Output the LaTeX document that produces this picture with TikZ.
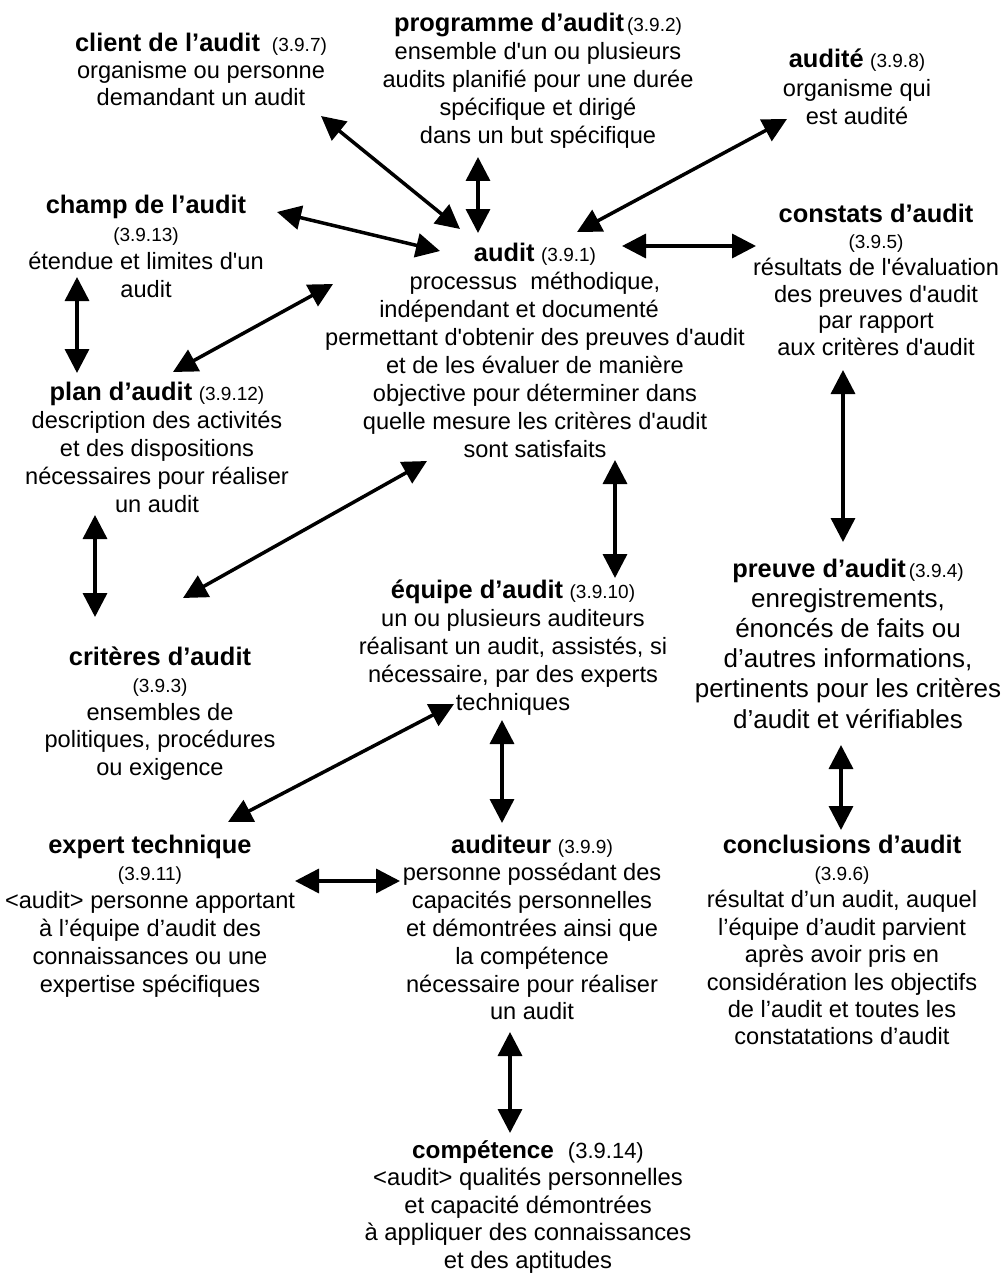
\documentclass[tikz,border=0pt]{standalone}
\usepackage{fontspec}
\setmainfont{Liberation Sans}[Ligatures=TeXOff]
\usetikzlibrary{arrows.meta}
\newcommand{\ttl}[1]{{\fontsize{25.4}{28}\selectfont\bfseries #1}}
\newcommand{\refnum}[1]{{\fontsize{19}{28}\selectfont #1}}
\newcommand{\topstrut}{\rule{0pt}{22pt}}
\tikzset{
  concept/.style={align=center, inner sep=0pt, outer sep=0pt, anchor=north,
    font=\fontsize{23.6}{#1}\selectfont},
  concept/.default=28pt,
  link/.style={<->, >={Triangle[length=24pt,width=24pt]}, line width=3.5pt},
}
\begin{document}
\begin{tikzpicture}[x=1pt,y=-1pt]
\fill[white] (0,0) rectangle (1006,1276);
\useasboundingbox (0,0) rectangle (1006,1276);

\node[concept=27pt] (client) at (201,30)
  {\topstrut\ttl{client de l’audit}\hspace{12pt}\refnum{(3.9.7)}\\
   organisme ou personne\\ demandant un audit};

\node[concept=27.9pt] (prog) at (538,9.5)
  {\topstrut\ttl{programme d’audit}\hspace{3pt}\refnum{(3.9.2)}\\
   ensemble d'un ou plusieurs\\ audits planifié pour une durée\\
   spécifique et dirigé\\ dans un but spécifique};

\node[concept=28.5pt] (audite) at (857,46)
  {\topstrut\ttl{audité} \refnum{(3.9.8)}\\ organisme qui\\ est audité};

\node[concept=28pt] (champ) at (146,191)
  {\topstrut\ttl{champ de l’audit}\\ \refnum{(3.9.13)}\\
   étendue et limites d'un\\ audit};

\node[concept=28pt] (audit) at (535,239)
  {\topstrut\ttl{audit} \refnum{(3.9.1)}\\
   processus\ \ méthodique,\\
   indépendant et documenté\rule{32pt}{0pt}\\
   permettant d'obtenir des preuves d'audit\\
   et de les évaluer de manière\\
   objective pour déterminer dans\\
   quelle mesure les critères d'audit\\
   sont satisfaits};

\node[concept=26.7pt] (constats) at (876,200)
  {\topstrut\ttl{constats d’audit}\\ \refnum{(3.9.5)}\\
   résultats de l'évaluation\\ des preuves d'audit\\ par rapport\\
   aux critères d'audit};

\node[concept=28.2pt] (plan) at (157,378)
  {\topstrut\ttl{plan d’audit} \refnum{(3.9.12)}\\
   description des activités\\ et des dispositions\\
   nécessaires pour réaliser\\ un audit};

\node[concept=27.5pt] (criteres) at (160,643)
  {\topstrut\ttl{critères d’audit}\\ \refnum{(3.9.3)}\\
   ensembles de\\ politiques, procédures\\ ou exigence};

\node[concept=28pt] (equipe) at (513,576)
  {\topstrut\ttl{équipe d’audit} \refnum{(3.9.10)}\\
   un ou plusieurs auditeurs\\ réalisant un audit, assistés, si\\
   nécessaire, par des experts\\ techniques};

\node[concept, font=\fontsize{26}{30.2}\selectfont] (preuve) at (848,555)
  {\topstrut\ttl{preuve d’audit}\hspace{3pt}\refnum{(3.9.4)}\\
   enregistrements,\\ énoncés de faits ou\\ d’autres informations,\\
   pertinents pour les critères\\ d’audit et vérifiables};

\node[concept=27.8pt] (expert) at (150,831)
  {\topstrut\ttl{expert technique}\\ \refnum{(3.9.11)}\\
   <audit> personne apportant\\ à l’équipe d’audit des\\
   connaissances ou une\\ expertise spécifiques};

\node[concept=27.8pt] (auditeur) at (532,831)
  {\topstrut\ttl{auditeur} \refnum{(3.9.9)}\\
   personne possédant des\\ capacités personnelles\\
   et démontrées ainsi que\\ la compétence\\
   nécessaire pour réaliser\\ un audit};

\node[concept=27.4pt] (conclusions) at (842,831)
  {\topstrut\ttl{conclusions d’audit}\\ \refnum{(3.9.6)}\\
   résultat d’un audit, auquel\\ l’équipe d’audit parvient\\
   après avoir pris en\\ considération les objectifs\\
   de l’audit et toutes les\\ constatations d’audit};

\node[concept, font=\fontsize{23.8}{27.5}\selectfont] (competence) at (528,1136)
  {\topstrut{\fontsize{24.3}{27.5}\selectfont\bfseries compétence}\hspace{14pt}{\fontsize{22}{27.5}\selectfont(3.9.14)}\\
   <audit> qualités personnelles\\ et capacité démontrées\\
   à appliquer des connaissances\\ et des aptitudes};

% connector end points
\coordinate (client-e)  at (321,116);  \coordinate (audit-client) at (460,229);
\coordinate (prog-s)    at (478,157);  \coordinate (audit-prog)   at (478,233);
\coordinate (audite-w)  at (787,119);  \coordinate (audit-audite) at (577,232);
\coordinate (champ-e)   at (277,212);  \coordinate (audit-champ)  at (440,251);
\coordinate (audit-e)   at (622,246);  \coordinate (constats-w)   at (756,246);
\coordinate (champ-s)   at (77,277);   \coordinate (plan-n)       at (77,373);
\coordinate (plan-ne)   at (173,372);  \coordinate (audit-plan)   at (333,284);
\coordinate (plan-s)    at (95,515);   \coordinate (criteres-n)   at (95,617);
\coordinate (criteres-ne) at (183,598); \coordinate (audit-crit)  at (427,461);
\coordinate (audit-s)   at (615,460);  \coordinate (equipe-n)     at (615,578);
\coordinate (constats-s) at (843,370); \coordinate (preuve-n)     at (843,542);
\coordinate (equipe-sw) at (454,704);  \coordinate (expert-ne)    at (228,822);
\coordinate (equipe-s)  at (502,720);  \coordinate (auditeur-n)   at (502,823);
\coordinate (expert-e)  at (295,881);  \coordinate (auditeur-w)   at (400,881);
\coordinate (preuve-s)  at (841,745);  \coordinate (concl-n)      at (841,830);
\coordinate (auditeur-s) at (510,1032); \coordinate (comp-n)      at (510,1133);

\draw[link] (client-e) -- (audit-client);
\draw[link] (prog-s) -- (audit-prog);
\draw[link] (audite-w) -- (audit-audite);
\draw[link] (champ-e) -- (audit-champ);
\draw[link] (audit-e) -- (constats-w);
\draw[link] (champ-s) -- (plan-n);
\draw[link] (plan-ne) -- (audit-plan);
\draw[link] (plan-s) -- (criteres-n);
\draw[link] (criteres-ne) -- (audit-crit);
\draw[link] (audit-s) -- (equipe-n);
\draw[link] (constats-s) -- (preuve-n);
\draw[link] (equipe-sw) -- (expert-ne);
\draw[link] (equipe-s) -- (auditeur-n);
\draw[link] (expert-e) -- (auditeur-w);
\draw[link] (preuve-s) -- (concl-n);
\draw[link] (auditeur-s) -- (comp-n);
\end{tikzpicture}
\end{document}
